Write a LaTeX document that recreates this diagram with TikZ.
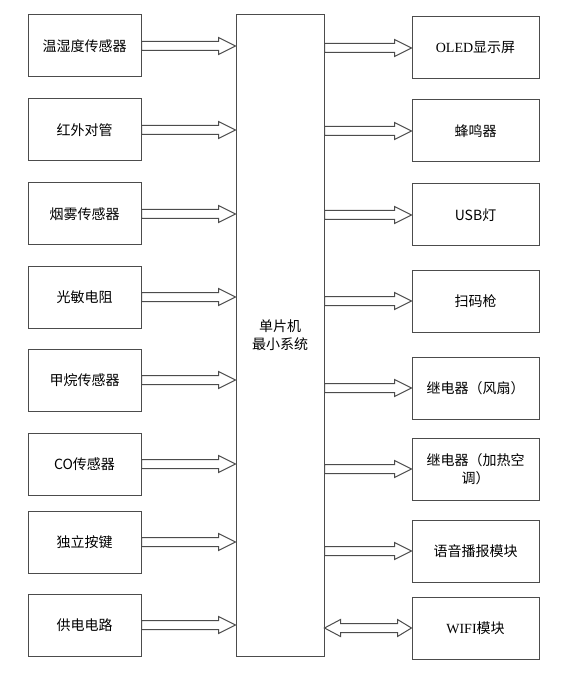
\documentclass[tikz,border=0pt]{standalone}
\usepackage{fontspec}
\setmainfont{Noto Sans CJK SC}
\newfontfamily\latserif{Liberation Serif}
\usetikzlibrary{calc}
\tikzset{
  blk/.style={draw=black!70, line width=1pt, fill=white, inner sep=2pt, align=center,
    font=\fontsize{14}{18}\selectfont},
  lbox/.style={blk, minimum width=113pt, minimum height=62pt},
  rbox/.style={blk, minimum width=127pt, minimum height=62pt},
  arr/.style={draw=black!70, line width=1pt, fill=white},
}
\newcommand\rarrow[2]{%
  \path[arr] let \p1=(#1), \p2=(#2) in
    (\x1,\y1+4.5) -- (\x2-17,\y1+4.5) -- (\x2-17,\y1+8.5) -- (\x2,\y1)
    -- (\x2-17,\y1-8.5) -- (\x2-17,\y1-4.5) -- (\x1,\y1-4.5) -- cycle;}
\newcommand\darrow[2]{%
  \path[arr] let \p1=(#1), \p2=(#2) in
    (\x1,\y1) -- (\x1+16,\y1+8.5) -- (\x1+16,\y1+4.5) -- (\x2-14,\y1+4.5) -- (\x2-14,\y1+8.5) -- (\x2,\y1)
    -- (\x2-14,\y1-8.5) -- (\x2-14,\y1-4.5) -- (\x1+16,\y1-4.5) -- (\x1+16,\y1-8.5) -- cycle;}
\begin{document}
\begin{tikzpicture}[x=1pt,y=-1pt]
\useasboundingbox (0,0) rectangle (570,684);
\node[blk, minimum width=88pt, minimum height=641pt] (M) at (280,335.5) {单片机\\最小系统};

\node[lbox] (L1) at (84.5,46) {温湿度传感器};
\node[lbox] (L2) at (84.5,130) {红外对管};
\node[lbox] (L3) at (84.5,214) {烟雾传感器};
\node[lbox] (L4) at (84.5,297) {光敏电阻};
\node[lbox] (L5) at (84.5,380) {甲烷传感器};
\node[lbox] (L6) at (84.5,464) {CO传感器};
\node[lbox] (L7) at (84.5,542) {独立按键};
\node[lbox] (L8) at (84.5,625) {供电电路};

\node[rbox] (R1) at (475.5,48) {{\latserif OLED}显示屏};
\node[rbox] (R2) at (475.5,131) {蜂鸣器};
\node[rbox] (R3) at (475.5,215) {USB灯};
\node[rbox] (R4) at (475.5,301) {扫码枪};
\node[rbox] (R5) at (475.5,388) {继电器（风扇）};
\node[rbox] (R6) at (475.5,469) {继电器（加热空\\调）};
\node[rbox] (R7) at (475.5,551) {语音播报模块};
\node[rbox] (R8) at (475.5,628) {{\latserif WIFI}模块};

\foreach \i in {1,...,8} {
  \coordinate (lt\i) at (L\i.east -| M.west);
  \rarrow{L\i.east}{lt\i}
}
\foreach \i in {1,...,7} {
  \coordinate (rs\i) at (R\i.west -| M.east);
  \rarrow{rs\i}{R\i.west}
}
\coordinate (rs8) at (R8.west -| M.east);
\darrow{rs8}{R8.west}
\end{tikzpicture}
\end{document}
